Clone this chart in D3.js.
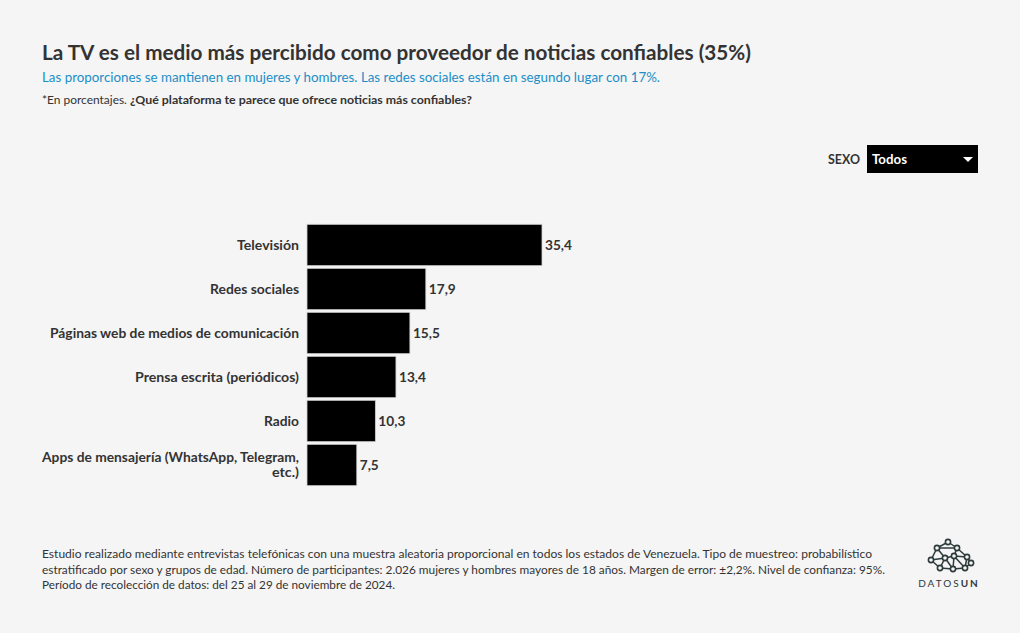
<!DOCTYPE html>
<html>
<head>
<meta charset="utf-8">
<script src="https://cdn.jsdelivr.net/npm/d3@7"></script>
<style>
  body { margin: 0; background: #f5f5f5; }
  svg { display: block; font-family: "Lato", "Noto Sans", sans-serif; }
</style>
</head>
<body>
<div class="container"></div>
<script>
// datos del gráfico
const categories = [
  "Televisión",
  "Redes sociales",
  "Páginas web de medios de comunicación",
  "Prensa escrita (periódicos)",
  "Radio",
  "Apps de mensajería (WhatsApp, Telegram, etc.)"
];
const values = [35.4, 17.9, 15.5, 13.4, 10.3, 7.5];

const title = "La TV es el medio más percibido como proveedor de noticias confiables (35%)";
const subtitle = "Las proporciones se mantienen en mujeres y hombres. Las redes sociales están en segundo lugar con 17%.";
const notePrefix = "*En porcentajes. ";
const noteQuestion = "¿Qué plataforma te parece que ofrece noticias más confiables?";
const footerLines = [
  "Estudio realizado mediante entrevistas telefónicas con una muestra aleatoria proporcional en todos los estados de Venezuela. Tipo de muestreo: probabilístico",
  "estratificado por sexo y grupos de edad. Número de participantes: 2.026 mujeres y hombres mayores de 18 años. Margen de error: ±2,2%. Nivel de confianza: 95%.",
  "Período de recolección de datos: del 25 al 29 de noviembre de 2024."
];

const W = 1020, H = 633;
const svg = d3.select(".container").append("svg")
  .attr("width", W)
  .attr("height", H);

svg.append("rect").attr("width", W).attr("height", H).attr("fill", "#f5f5f5");

// ajusta el ancho del texto (la fuente original es más estrecha)
function fit(sel, w) {
  sel.attr("textLength", w).attr("lengthAdjust", "spacingAndGlyphs");
}

svg.append("text")
  .attr("x", 42).attr("y", 60)
  .attr("font-size", 20).attr("font-weight", 700).attr("fill", "#333")
  .text(title).call(fit, 709);

svg.append("text")
  .attr("x", 42).attr("y", 82)
  .attr("font-size", 13).attr("fill", "#1b8ec8")
  .text(subtitle).call(fit, 618);

const note = svg.append("text")
  .attr("x", 42).attr("y", 104)
  .attr("font-size", 12).attr("fill", "#333");
note.append("tspan").text(notePrefix).attr("textLength", 88).attr("lengthAdjust", "spacingAndGlyphs");
note.append("tspan").attr("font-weight", 700).text(noteQuestion)
  .attr("textLength", 342).attr("lengthAdjust", "spacingAndGlyphs");

// selector SEXO
svg.append("text")
  .attr("x", 860).attr("y", 164)
  .attr("text-anchor", "end")
  .attr("font-size", 13).attr("font-weight", 700).attr("fill", "#333")
  .text("SEXO").call(fit, 32);
svg.append("rect")
  .attr("x", 867).attr("y", 145).attr("width", 111).attr("height", 28)
  .attr("fill", "#000");
svg.append("text")
  .attr("x", 872).attr("y", 164)
  .attr("font-size", 13).attr("font-weight", 700).attr("fill", "#fff")
  .text("Todos").call(fit, 35);
svg.append("path")
  .attr("d", "M963,157 L973,157 L968,162 Z")
  .attr("fill", "#fff");

// barras
const x = d3.scaleLinear().domain([0, 35.4]).range([307, 542]);
const y = d3.scaleBand().domain(categories).range([223, 487]).paddingInner(0.06).paddingOuter(0.03);

const fmt = v => d3.format(".1f")(v).replace(".", ",");

const rows = svg.append("g").selectAll("g")
  .data(categories.map((c, i) => ({ name: c, value: values[i] })))
  .join("g");

rows.append("rect")
  .attr("x", x(0))
  .attr("y", d => y(d.name))
  .attr("width", d => x(d.value) - x(0))
  .attr("height", y.bandwidth())
  .attr("fill", "#000")
  .attr("stroke", "#d0d0d0")
  .attr("stroke-width", 0.8);

rows.append("text")
  .attr("x", d => x(d.value) + 3)
  .attr("y", d => y(d.name) + y.bandwidth() / 2)
  .attr("dy", "0.35em")
  .attr("font-size", 13).attr("font-weight", 700).attr("fill", "#333")
  .text(d => fmt(d.value))
  .each(function (d) { d3.select(this).call(fit, d.value >= 10 ? 27 : 19); });

// etiquetas de categoría (con salto de línea en la última)
const labelWidths = [62, 89, 249, 164, 35];
rows.append("text")
  .attr("x", 299)
  .attr("y", d => y(d.name) + y.bandwidth() / 2)
  .attr("text-anchor", "end")
  .attr("font-size", 13).attr("font-weight", 700).attr("fill", "#333")
  .each(function (d, i) {
    const t = d3.select(this);
    if (i < 5) {
      t.attr("dy", "0.35em").text(d.name).call(fit, labelWidths[i]);
    } else {
      t.append("tspan").attr("x", 299).attr("dy", "-0.25em")
        .text("Apps de mensajería (WhatsApp, Telegram,")
        .attr("textLength", 257).attr("lengthAdjust", "spacingAndGlyphs");
      t.append("tspan").attr("x", 299).attr("dy", "1.15em")
        .text("etc.)")
        .attr("textLength", 27).attr("lengthAdjust", "spacingAndGlyphs");
    }
  });

// nota al pie
const footW = [830, 843, 353];
svg.append("g").selectAll("text")
  .data(footerLines)
  .join("text")
  .attr("x", 42)
  .attr("y", (d, i) => 558 + i * 15.5)
  .attr("font-size", 12).attr("fill", "#333")
  .text(d => d)
  .each(function (d, i) { d3.select(this).call(fit, footW[i]); });

// logo DATOSUN
const logo = svg.append("g").attr("stroke", "#2e3b3b").attr("fill", "none");
const nodes = [
  [948, 542], [937, 548], [957, 548], [945, 558], [931, 560], [954, 556],
  [967, 557], [971, 563], [953, 569], [940, 568], [965, 568]
];
const links = [
  [0, 1], [0, 2], [1, 2], [1, 3], [1, 4], [3, 4], [3, 5], [2, 5], [2, 6], [5, 6],
  [6, 7], [7, 10], [10, 8], [8, 9], [9, 4], [3, 9], [3, 8], [5, 8], [6, 10], [5, 10]
];
logo.selectAll("line").data(links).join("line")
  .attr("x1", d => nodes[d[0]][0]).attr("y1", d => nodes[d[0]][1])
  .attr("x2", d => nodes[d[1]][0]).attr("y2", d => nodes[d[1]][1])
  .attr("stroke-width", 1.5);
logo.selectAll("circle").data(nodes).join("circle")
  .attr("cx", d => d[0]).attr("cy", d => d[1]).attr("r", 2.6)
  .attr("fill", "#f5f5f5").attr("stroke-width", 1.6);

const brand = svg.append("text")
  .attr("x", 949).attr("y", 587)
  .attr("text-anchor", "middle")
  .attr("font-size", 10).attr("fill", "#2e3b3b")
  .attr("letter-spacing", 2);
brand.append("tspan").text("DATOS");
brand.append("tspan").attr("font-weight", 700).text("UN");
</script>
</body>
</html>
